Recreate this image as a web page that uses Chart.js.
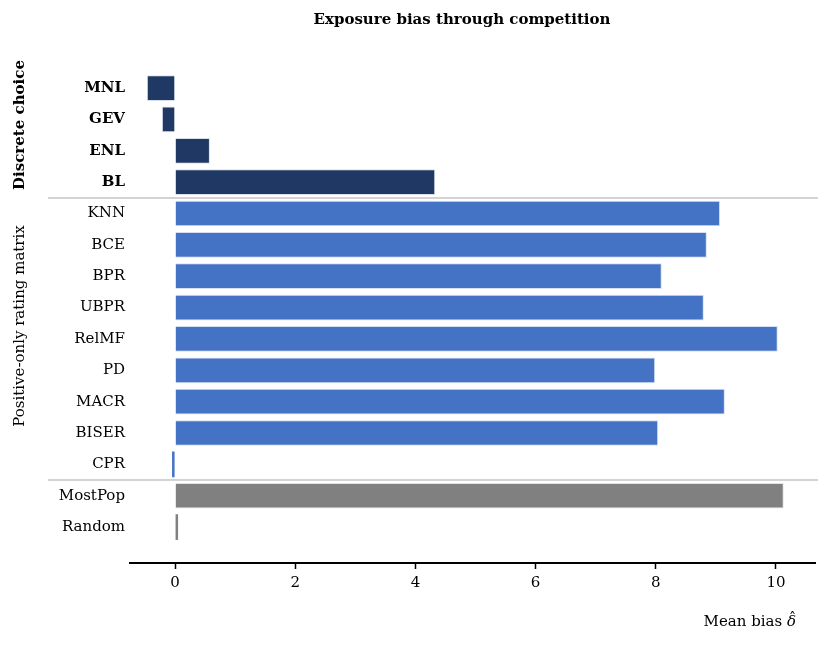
<!DOCTYPE html>
<html>
<head>
<meta charset="utf-8">
<script src="https://cdn.jsdelivr.net/npm/chart.js@4/dist/chart.umd.min.js"></script>
<style>
  body { margin: 0; background: #fff; }
  #wrap { width: 830px; height: 645px; }
</style>
</head>
<body>
<div id="wrap"><canvas id="biasChart"></canvas></div>
<script>
// data
const discreteModels = ['MNL', 'GEV', 'ENL', 'BL'];
const discreteBias = [-0.47, -0.22, 0.58, 4.33];
const positiveModels = ['KNN', 'BCE', 'BPR', 'UBPR', 'RelMF', 'PD', 'MACR', 'BISER', 'CPR'];
const positiveBias = [9.07, 8.85, 8.10, 8.80, 10.03, 7.99, 9.15, 8.04, -0.05];
const baselineModels = ['MostPop', 'Random'];
const baselineBias = [10.13, 0.05];
const groupNames = ['Discrete choice', 'Positive-only rating matrix'];
const xTicks = [0, 2, 4, 6, 8, 10];
const chartTitle = 'Exposure bias through competition';

const allModels = discreteModels.concat(positiveModels, baselineModels);
const serif = '"DejaVu Serif", serif';

function toPoints(values, offset) {
    return values.map((v, i) => ({ x: v, y: i + offset }));
}

// light edge only on bars wide enough to show it
function edgeWidth(ctx) {
    const v = ctx.raw ? Math.abs(ctx.raw.x) : 0;
    return v > 0.1 ? 1 : 0;
}

// separators, group labels, title, axis title
const decorations = {
    id: 'decorations',
    afterDraw(chart) {
        const c = chart.ctx;
        const y = chart.scales.y;
        const area = chart.chartArea;
        c.save();
        c.strokeStyle = '#d3d3d3';
        c.lineWidth = 2;
        [discreteModels.length - 0.5, discreteModels.length + positiveModels.length - 0.5].forEach(v => {
            const py = Math.round(y.getPixelForValue(v));
            c.beginPath();
            c.moveTo(48, py);
            c.lineTo(area.right + 3, py);
            c.stroke();
        });

        c.fillStyle = '#000';
        c.textAlign = 'center';
        c.textBaseline = 'middle';
        // group names, rotated
        c.save();
        c.translate(20, 125);
        c.rotate(-Math.PI / 2);
        c.font = 'bold 15px ' + serif;
        c.fillText(groupNames[0], 0, 0);
        c.restore();
        c.save();
        c.translate(20, 326);
        c.rotate(-Math.PI / 2);
        c.font = '15px ' + serif;
        c.fillText(groupNames[1], 0, 0);
        c.restore();

        c.font = 'bold 15px ' + serif;
        c.fillText(chartTitle, 462, 20);

        // x axis title with a hat over delta
        c.textAlign = 'left';
        c.font = '15px ' + serif;
        const t1 = 'Mean bias ';
        const w1 = c.measureText(t1).width;
        c.font = 'italic 15px ' + serif;
        const w2 = c.measureText('\u03b4').width;
        const x0 = 796 - w1 - w2;
        c.font = '15px ' + serif;
        c.fillText(t1, x0, 622);
        c.font = 'italic 15px ' + serif;
        c.fillText('\u03b4', x0 + w1, 622);
        c.font = '14px ' + serif;
        c.textAlign = 'center';
        c.fillText('\u02c6', x0 + w1 + w2 / 2 + 1, 619);
        c.restore();
    }
};

new Chart(document.getElementById('biasChart'), {
    type: 'bar',
    data: {
        datasets: [
            {
                label: 'Discrete choice',
                data: toPoints(discreteBias, 0),
                backgroundColor: '#203864',
                borderColor: 'rgba(200,210,230,0.7)',
                borderWidth: edgeWidth
            },
            {
                label: 'Positive-only rating matrix',
                data: toPoints(positiveBias, discreteModels.length),
                backgroundColor: '#4472c4',
                borderColor: 'rgba(200,215,240,0.8)',
                borderWidth: edgeWidth
            },
            {
                label: 'Baselines',
                data: toPoints(baselineBias, discreteModels.length + positiveModels.length),
                backgroundColor: '#808080',
                borderColor: 'rgba(220,220,220,0.8)',
                borderWidth: edgeWidth
            }
        ]
    },
    options: {
        indexAxis: 'y',
        responsive: true,
        maintainAspectRatio: false,
        animation: false,
        grouped: false,
        barPercentage: 0.82,
        categoryPercentage: 1,
        layout: { padding: { top: 68, right: 15, left: 0, bottom: 0 } },
        plugins: {
            legend: { display: false },
            title: { display: false },
            tooltip: { enabled: false }
        },
        scales: {
            x: {
                type: 'linear',
                position: 'bottom',
                min: -0.75,
                max: 10.65,
                afterBuildTicks: s => { s.ticks = xTicks.map(v => ({ value: v })); },
                afterFit: s => { s.height = 82; },
                grid: { display: true, drawOnChartArea: false, drawTicks: true, tickLength: 6, tickWidth: 1.5, tickColor: '#000' },
                border: { display: true, color: '#000', width: 2 },
                ticks: {
                    color: '#000',
                    padding: 5,
                    font: { family: serif, size: 15 }
                }
            },
            y: {
                type: 'linear',
                reverse: true,
                offset: false,
                min: -0.64,
                max: allModels.length + 0.145,
                afterBuildTicks: s => { s.ticks = allModels.map((m, i) => ({ value: i })); },
                afterFit: s => { s.width = 130; },
                grid: { display: false, drawTicks: false },
                border: { display: false },
                ticks: {
                    color: '#000',
                    padding: 5,
                    autoSkip: false,
                    callback: v => allModels[v],
                    font: ctx => ({
                        family: serif,
                        size: 15,
                        weight: ctx.tick && ctx.tick.value < discreteModels.length ? 'bold' : 'normal'
                    })
                }
            }
        }
    },
    plugins: [decorations]
});
</script>
</body>
</html>
